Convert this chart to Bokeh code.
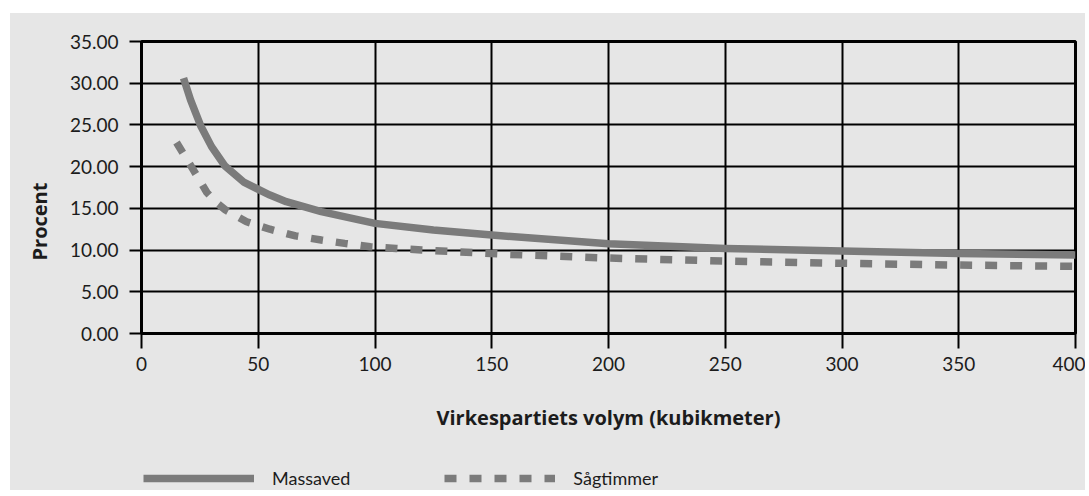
from bokeh.plotting import figure
from bokeh.layouts import column
from bokeh.models import (Legend, LegendItem, Title, FixedTicker,
                          PrintfTickFormatter, Range1d)
from bokeh.embed import file_html
from bokeh.resources import INLINE

# ---- data ----
x_ticks = [0, 50, 100, 150, 200, 250, 300, 350, 400]
y_ticks = [0, 5, 10, 15, 20, 25, 30, 35]

massaved_x = [18, 21, 25.5, 30, 35.7, 44, 55, 62, 77, 100, 125, 150, 200, 250, 300, 350, 400]
massaved_y = [30.6, 28.0, 24.8, 22.4, 20.1, 18.1, 16.6, 15.8, 14.6, 13.2, 12.4, 11.8, 10.75, 10.2, 9.9, 9.6, 9.4]

sagtimmer_x = [15, 22, 28, 32, 36, 45, 55, 66, 77, 87, 98, 109, 120, 156, 199, 254, 304, 350, 400]
sagtimmer_y = [22.9, 19.7, 16.9, 15.7, 14.8, 13.4, 12.5, 11.7, 11.2, 10.8, 10.4, 10.2, 10.0, 9.5, 9.05, 8.65, 8.4, 8.2, 8.05]

series_names = ["Massaved", "Sågtimmer"]
x_title = "Virkespartiets volym (kubikmeter)"
y_title = "Procent"

FONT = "Lato"
TFONT = "Open Sans"
TXT = "#1c1c1c"
GRAY = "#7b7b7b"
BG = "#e6e6e6"
LW = 7.5
DASH = "12 13"

p = figure(width=1075, height=437, x_range=Range1d(0, 400), y_range=Range1d(0, 35),
           output_backend="svg", toolbar_location=None,
           min_border_left=130, min_border_right=10, min_border_top=28, min_border_bottom=117,
           background_fill_color=BG, border_fill_color=BG,
           outline_line_color="black", outline_line_width=3)

# axes
p.xaxis.ticker = FixedTicker(ticks=x_ticks)
p.yaxis.ticker = FixedTicker(ticks=y_ticks)
p.yaxis.formatter = PrintfTickFormatter(format="%.2f")
for ax in (p.xaxis, p.yaxis):
    ax.axis_line_color = "black"
    ax.axis_line_width = 3
    ax.major_tick_line_color = "black"
    ax.major_tick_line_width = 2
    ax.major_tick_in = 0
    ax.minor_tick_line_color = None
    ax.major_label_text_font = FONT
    ax.major_label_text_font_size = "19px"
    ax.major_label_text_color = TXT
p.xaxis.major_tick_out = 15
p.xaxis.major_label_standoff = 8
p.yaxis.major_tick_out = 12
p.yaxis.major_label_standoff = 11

p.xaxis.axis_label = x_title
p.xaxis.axis_label_standoff = 30
p.xaxis.axis_label_text_font = TFONT
p.xaxis.axis_label_text_font_size = "20px"
p.xaxis.axis_label_text_font_style = "bold"
p.xaxis.axis_label_text_color = TXT

# y title as a left-side title, shifted down along the axis
p.add_layout(Title(text=y_title, align="left", offset=73, standoff=27,
                   text_font=TFONT, text_font_size="20px", text_font_style="bold",
                   text_color=TXT), "left")

# grid
for g in (p.xgrid, p.ygrid):
    g.grid_line_color = "black"
    g.grid_line_width = 2
    g.grid_line_alpha = 1.0

# series
p.line(massaved_x, massaved_y, line_color=GRAY, line_width=LW, line_join="round")
p.line(sagtimmer_x, sagtimmer_y, line_color=GRAY, line_width=LW, line_dash=DASH,
       line_cap="butt")

# ---- legend strip below the chart ----
lg = figure(width=1075, height=40, x_range=Range1d(0, 1), y_range=Range1d(0, 1),
            output_backend="svg", toolbar_location=None,
            x_axis_location=None, y_axis_location=None,
            min_border=0, background_fill_alpha=0, border_fill_color=BG,
            outline_line_color=None)
lg.xgrid.visible = False
lg.ygrid.visible = False
# legend key samples (kept outside the visible range)
k1 = lg.line([-2, -1], [-2, -2], line_color=GRAY, line_width=LW)
k2 = lg.line([-2, -1], [-2, -2], line_color=GRAY, line_width=LW, line_dash=DASH,
             line_cap="butt")
legend = Legend(items=[LegendItem(label=series_names[0], renderers=[k1]),
                       LegendItem(label=series_names[1], renderers=[k2])],
                location=(2, 1), orientation="horizontal", padding=0, margin=0,
                spacing=94, glyph_width=111, glyph_height=16, label_height=16,
                label_standoff=18, border_line_color=None, background_fill_alpha=0,
                label_text_font=FONT, label_text_font_size="18px", label_text_color=TXT)
lg.add_layout(legend)

layout = column(p, lg, spacing=0, margin=(13, 0, 0, 10),
                styles={"background-color": BG})
open("out.html", "w").write(file_html(layout, INLINE))
